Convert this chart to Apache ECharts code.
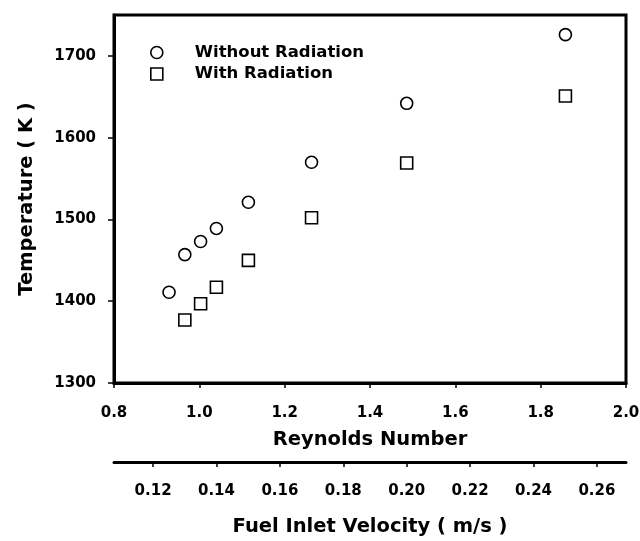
<!DOCTYPE html>
<html>
<head>
<meta charset="utf-8">
<style>
  html, body { margin: 0; padding: 0; background: #fff; }
  #chart { width: 640px; height: 541px; }
</style>
<script src="https://cdn.jsdelivr.net/npm/echarts@6/dist/echarts.min.js"></script>
</head>
<body>
<div id="chart"></div>
<script>
// Flame temperature versus Reynolds number, with and without radiation
const reynoldsWithout = [0.929, 0.966, 1.003, 1.040, 1.115, 1.263, 1.486, 1.858];
const tempWithout     = [1411, 1457, 1473, 1489, 1521, 1570, 1642, 1726];
const reynoldsWith    = [0.966, 1.003, 1.040, 1.115, 1.263, 1.486, 1.858];
const tempWith        = [1377, 1397, 1417, 1450, 1502, 1569, 1651];

const seriesNames = ['Without Radiation', 'With Radiation'];
const seriesSymbols = ['circle', 'rect'];

// Axis ticks
const tempTicks     = [1300, 1400, 1500, 1600, 1700];
const reynoldsTicks = [0.8, 1.0, 1.2, 1.4, 1.6, 1.8, 2.0];
const velocityTicks = [0.12, 0.14, 0.16, 0.18, 0.20, 0.22, 0.24, 0.26];

// Reynolds number per unit fuel inlet velocity (m/s)
const RE_PER_VELOCITY = 7.43;

const RE_MIN = 0.8, RE_MAX = 2.0;
const T_MIN = 1300, T_MAX = 1750;

const FONT = 'DejaVu Sans';
const pairs = (xs, ys) => xs.map((x, i) => [x, ys[i]]);

const chart = echarts.init(document.getElementById('chart'), null, { renderer: 'canvas' });

const tickLabel = { color: '#000', fontFamily: FONT, fontWeight: 'bold', fontSize: 15 };
const nameStyle = { color: '#000', fontFamily: FONT, fontWeight: 'bold', fontSize: 19.5 };
const markerStyle = { color: '#fff', borderColor: '#000', borderWidth: 1.6, opacity: 1 };

chart.setOption({
  animation: false,
  backgroundColor: '#fff',
  textStyle: { fontFamily: FONT },
  grid: {
    left: 114, right: 14, top: 15, bottom: 158,
    show: true, borderColor: '#000', borderWidth: 3,
    backgroundColor: 'transparent',
    outerBoundsMode: 'none'
  },
  legend: {
    orient: 'vertical',
    left: 145, top: 37.5,
    itemWidth: 12, itemHeight: 12, itemGap: 1.5,
    itemStyle: { borderWidth: 1.6, borderColor: '#000', color: '#fff' },
    textStyle: { color: '#000', fontFamily: FONT, fontWeight: 'bold', fontSize: 16.5,
                 lineHeight: 20, padding: [0, 0, 0, 27] },
    data: seriesNames.map((name, i) => ({ name, icon: seriesSymbols[i] }))
  },
  xAxis: [
    {
      type: 'value', position: 'bottom',
      min: RE_MIN, max: RE_MAX, interval: 0.2,
      name: 'Reynolds Number', nameLocation: 'middle', nameGap: 47,
      nameTextStyle: nameStyle,
      axisLine: { show: true, lineStyle: { color: '#000', width: 3 } },
      axisTick: { show: true, inside: false, length: 5, lineStyle: { color: '#000', width: 1.5 },
                  customValues: reynoldsTicks },
      axisLabel: Object.assign({ margin: 23, customValues: reynoldsTicks,
                                 formatter: v => v.toFixed(1) }, tickLabel),
      splitLine: { show: false }
    },
    {
      type: 'value', position: 'bottom', offset: 79,
      min: RE_MIN / RE_PER_VELOCITY, max: RE_MAX / RE_PER_VELOCITY,
      name: 'Fuel Inlet Velocity ( m/s )', nameLocation: 'middle', nameGap: 55,
      nameTextStyle: nameStyle,
      axisLine: { show: true, lineStyle: { color: '#000', width: 3 } },
      axisTick: { show: true, inside: false, length: 5, lineStyle: { color: '#000', width: 1.5 },
                  customValues: velocityTicks },
      axisLabel: Object.assign({ margin: 22, customValues: velocityTicks,
                                 formatter: v => v.toFixed(2) }, tickLabel),
      splitLine: { show: false }
    }
  ],
  yAxis: {
    type: 'value',
    min: T_MIN, max: T_MAX,
    name: 'Temperature ( K )', nameLocation: 'middle', nameGap: 77,
    nameTextStyle: nameStyle,
    axisLine: { show: true, lineStyle: { color: '#000', width: 3 } },
    axisTick: { show: true, inside: false, length: 6, lineStyle: { color: '#000', width: 1.5 },
                customValues: tempTicks },
    axisLabel: Object.assign({ margin: 18, customValues: tempTicks,
                               formatter: v => String(v) }, tickLabel),
    splitLine: { show: false }
  },
  series: [
    {
      name: seriesNames[0], type: 'scatter', xAxisIndex: 0,
      symbol: seriesSymbols[0], symbolSize: 12,
      itemStyle: markerStyle,
      data: pairs(reynoldsWithout, tempWithout)
    },
    {
      name: seriesNames[1], type: 'scatter', xAxisIndex: 0,
      symbol: seriesSymbols[1], symbolSize: 12,
      itemStyle: markerStyle,
      data: pairs(reynoldsWith, tempWith)
    }
  ]
});
</script>
</body>
</html>
